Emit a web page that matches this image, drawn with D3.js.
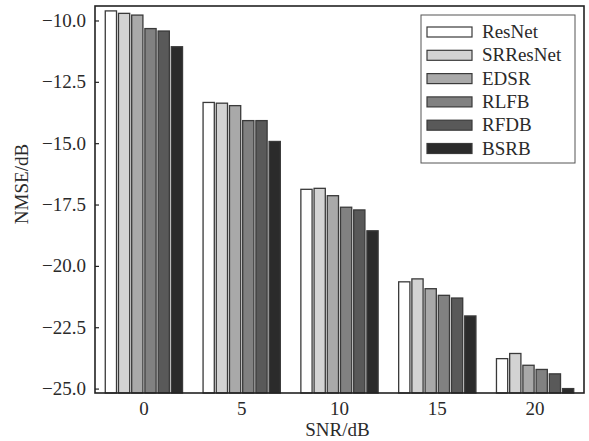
<!DOCTYPE html>
<html>
<head>
<meta charset="utf-8">
<script src="https://cdn.jsdelivr.net/npm/d3@7"></script>
<style>
  body { margin: 0; background: #fff; }
  svg text { font-family: "Liberation Serif", "Times New Roman", serif; fill: #2a2a2a; }
</style>
</head>
<body>
<svg width="589" height="441"></svg>
<script>
// SNR groups and methods
var snr = ["0", "5", "10", "15", "20"];
var methods = ["ResNet", "SRResNet", "EDSR", "RLFB", "RFDB", "BSRB"];
var colors = ["#ffffff", "#d3d3d3", "#a9a9a9", "#818181", "#595959", "#2b2b2b"];

// NMSE/dB per method, one value per SNR
var resnet   = [-9.61, -13.34, -16.88, -20.65, -23.78];
var srresnet = [-9.71, -13.37, -16.84, -20.53, -23.57];
var edsr     = [-9.78, -13.47, -17.14, -20.93, -24.05];
var rlfb     = [-10.33, -14.08, -17.61, -21.20, -24.22];
var rfdb     = [-10.43, -14.08, -17.72, -21.31, -24.40];
var bsrb     = [-11.07, -14.93, -18.57, -22.04, -25.00];

var yTicks = [-10, -12.5, -15, -17.5, -20, -22.5, -25];

var series = [resnet, srresnet, edsr, rlfb, rfdb, bsrb];

var svg = d3.select("svg");
var mLeft = 95, mRight = 584, mTop = 6, mBottom = 393;

var x0 = d3.scaleBand().domain(snr).range([mLeft, mRight]).paddingInner(0.21).paddingOuter(0.105);
var x1 = d3.scaleBand().domain(methods).range([0, x0.bandwidth()]).paddingInner(0.15);
var y = d3.scaleLinear().domain([-25.18, -9.41]).range([mBottom, mTop]);

// bars
var groups = svg.append("g")
  .selectAll("g")
  .data(snr)
  .join("g")
  .attr("transform", d => "translate(" + x0(d) + ",0)");

groups.selectAll("rect")
  .data((d, i) => methods.map((m, j) => ({m: m, j: j, v: series[j][i]})))
  .join("rect")
  .attr("x", d => x1(d.m))
  .attr("width", x1.bandwidth())
  .attr("y", d => y(d.v))
  .attr("height", d => mBottom - y(d.v))
  .attr("fill", d => colors[d.j])
  .attr("stroke", "#3a3a3a")
  .attr("stroke-width", 1.3);

// frame
svg.append("rect")
  .attr("x", mLeft).attr("y", mTop)
  .attr("width", mRight - mLeft).attr("height", mBottom - mTop)
  .attr("fill", "none").attr("stroke", "#222").attr("stroke-width", 1.6);

// y axis (ticks inside)
var yAxis = svg.append("g")
  .attr("transform", "translate(" + mLeft + ",0)")
  .call(d3.axisRight(y).tickValues(yTicks).tickSize(4).tickFormat(d => d3.format(".1f")(d).replace("-", "\u2212")));
yAxis.select(".domain").remove();
yAxis.selectAll("line").attr("stroke", "#222").attr("stroke-width", 1.2);
yAxis.selectAll("text")
  .attr("x", -9).attr("text-anchor", "end")
  .style("font-size", "19px");

// x axis labels
var xAxis = svg.append("g")
  .attr("transform", "translate(0," + mBottom + ")")
  .call(d3.axisBottom(x0).tickSize(0).tickPadding(9));
xAxis.select(".domain").remove();
xAxis.selectAll("text").style("font-size", "19px");

// axis titles
svg.append("text")
  .attr("x", (mLeft + mRight) / 2 - 2).attr("y", 436)
  .attr("text-anchor", "middle")
  .style("font-size", "19px")
  .text("SNR/dB");

svg.append("text")
  .attr("transform", "translate(28,184) rotate(-90)")
  .attr("text-anchor", "middle")
  .style("font-size", "19px")
  .text("NMSE/dB");

// legend
var legend = svg.append("g");
legend.append("rect")
  .attr("x", 421).attr("y", 15).attr("width", 154).attr("height", 148)
  .attr("fill", "#fff").attr("stroke", "#555").attr("stroke-width", 1);

var items = legend.selectAll("g.item")
  .data(methods)
  .join("g")
  .attr("class", "item")
  .attr("transform", (d, i) => "translate(427," + (27 + i * 23.3) + ")");

items.append("rect")
  .attr("width", 45).attr("height", 10)
  .attr("fill", (d, i) => colors[i])
  .attr("stroke", "#3a3a3a").attr("stroke-width", 1.2);

items.append("text")
  .attr("x", 55).attr("y", 11)
  .style("font-size", "19px")
  .text(d => d);
</script>
</body>
</html>
